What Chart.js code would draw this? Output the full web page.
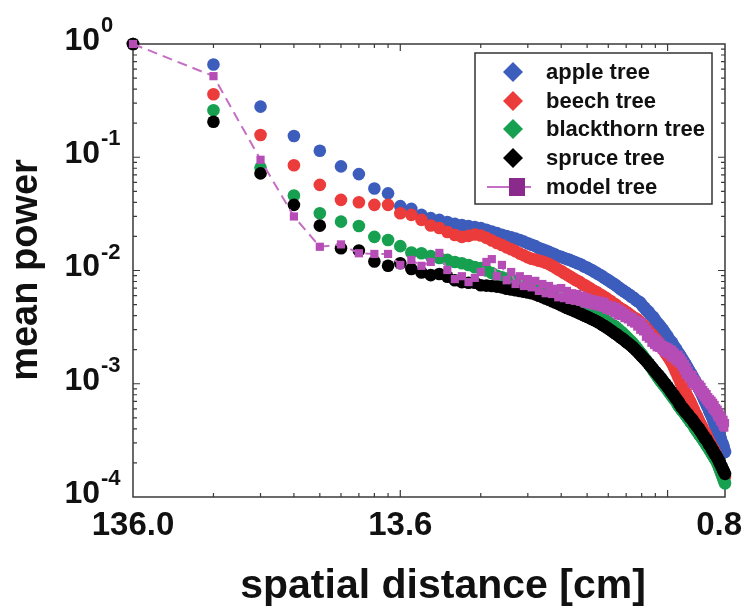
<!DOCTYPE html>
<html>
<head>
<meta charset="utf-8">
<title>mean power vs spatial distance</title>
<script src="https://cdn.jsdelivr.net/npm/chart.js@4/dist/chart.umd.min.js"></script>
<style>
  html, body { margin: 0; padding: 0; background: #fff; }
  #wrap { width: 743px; height: 610px; }
</style>
</head>
<body>
<div id="wrap"><canvas id="powerChart"></canvas></div>
<script>
// x = harmonic index k (spatial distance = 136 cm / k)
const harmonics = [];
for (let k = 1; k <= 164; k++) harmonics.push(k);

const xTickValues = [1, 10, 164];
const xTickLabels = ['136.0', '13.6', '0.8'];
const yTickValues = [1, 0.1, 0.01, 0.001, 0.0001];
const yTickExponents = ['0', '-1', '-2', '-3', '-4'];

const seriesNames = ['apple tree', 'beech tree', 'blackthorn tree', 'spruce tree', 'model tree'];

// mean power, k = 1..164
const applePower = [
  1.0, 0.66, 0.28, 0.154, 0.114, 0.083, 0.071, 0.053, 0.048, 0.037,
  0.035, 0.031, 0.029, 0.028, 0.0268, 0.0258, 0.0252, 0.0247, 0.0242, 0.0237,
  0.0229, 0.0221, 0.0214, 0.0207, 0.0201, 0.0196, 0.0191, 0.0186, 0.0180, 0.0174,
  0.0169, 0.0164, 0.0158, 0.0154, 0.0150, 0.0146, 0.0142, 0.0138, 0.0134, 0.0132,
  0.0129, 0.0126, 0.0124, 0.0121, 0.0119, 0.0116, 0.0114, 0.0111, 0.0108, 0.0106,
  0.0103, 0.0101, 0.0098, 0.0096, 0.0093, 0.0091, 0.0089, 0.0086, 0.0084, 0.0082,
  0.0080, 0.0078, 0.0076, 0.0074, 0.0072, 0.0070, 0.0068, 0.0067, 0.0065, 0.0064,
  0.0062, 0.0061, 0.0059, 0.0058, 0.0057, 0.0055, 0.0054, 0.0053, 0.0052, 0.0050,
  0.0048, 0.0047, 0.0045, 0.0044, 0.0043, 0.0041, 0.0040, 0.0039, 0.0038, 0.0036,
  0.0035, 0.0034, 0.0033, 0.0032, 0.0031, 0.0030, 0.0029, 0.0028, 0.0027, 0.0026,
  0.0025, 0.0024, 0.00236, 0.0023, 0.0022, 0.0021, 0.00206, 0.0020, 0.0019, 0.00186,
  0.0018, 0.00173, 0.00168, 0.00162, 0.00157, 0.00152, 0.00147, 0.00142, 0.00137, 0.00132,
  0.00128, 0.00124, 0.0012, 0.00116, 0.00112, 0.00108, 0.00104, 0.00101, 0.00098, 0.00094,
  0.00091, 0.00088, 0.00085, 0.00082, 0.00079, 0.00076, 0.00073, 0.0007, 0.00068, 0.00065,
  0.00063, 0.00061, 0.00058, 0.00056, 0.00054, 0.00052, 0.0005, 0.00048, 0.00046, 0.00044,
  0.00043, 0.00041, 0.0004, 0.00038, 0.00037, 0.00035, 0.00034, 0.00033, 0.00031, 0.0003,
  0.00029, 0.00028, 0.00026, 0.00025
];

const beechPower = [
  1.0, 0.36, 0.157, 0.085, 0.057, 0.042, 0.040, 0.038, 0.038, 0.032,
  0.031, 0.028, 0.025, 0.0237, 0.0219, 0.0206, 0.0198, 0.0202, 0.0208, 0.0204,
  0.0194, 0.0184, 0.0175, 0.0168, 0.0160, 0.0154, 0.0148, 0.0141, 0.0136, 0.0131,
  0.0127, 0.0125, 0.0122, 0.0120, 0.0117, 0.0114, 0.0110, 0.0106, 0.0102, 0.0099,
  0.0095, 0.0092, 0.0089, 0.0086, 0.0083, 0.0081, 0.0079, 0.0076, 0.0074, 0.0072,
  0.0070, 0.0068, 0.0066, 0.0065, 0.0063, 0.0061, 0.0060, 0.0058, 0.0057, 0.0055,
  0.0054, 0.0052, 0.0051, 0.0050, 0.0048, 0.0047, 0.0046, 0.0045, 0.0044, 0.0043,
  0.0042, 0.0041, 0.0040, 0.0039, 0.0038, 0.00376, 0.0037, 0.0036, 0.0035, 0.0034,
  0.0033, 0.0032, 0.0031, 0.0030, 0.0029, 0.0028, 0.00275, 0.00267, 0.00258, 0.0025,
  0.00243, 0.00234, 0.00226, 0.00218, 0.00211, 0.00203, 0.00196, 0.00189, 0.00182, 0.00176,
  0.0017, 0.00164, 0.00158, 0.00152, 0.00145, 0.00138, 0.00131, 0.00125, 0.00119, 0.00113,
  0.00108, 0.00102, 0.00097, 0.00094, 0.0009, 0.00086, 0.00083, 0.00079, 0.00076, 0.00073,
  0.0007, 0.00068, 0.00065, 0.00062, 0.0006, 0.00057, 0.00055, 0.00053, 0.00051, 0.00049,
  0.00047, 0.00045, 0.00044, 0.00042, 0.00041, 0.00039, 0.00038, 0.00037, 0.00036, 0.00035,
  0.00033, 0.00032, 0.00031, 0.0003, 0.00029, 0.00028, 0.00027, 0.000266, 0.00026, 0.00025,
  0.00024, 0.00023, 0.000225, 0.00022, 0.00021, 0.0002, 0.000195, 0.000188, 0.00018, 0.000175,
  0.000169, 0.000163, 0.000157, 0.000152
];

const blackthornPower = [
  1.0, 0.26, 0.081, 0.046, 0.032, 0.027, 0.0247, 0.0198, 0.0186, 0.0164,
  0.0144, 0.0142, 0.0134, 0.0129, 0.0124, 0.0119, 0.0116, 0.0112, 0.0107, 0.0105,
  0.0100, 0.0095, 0.0090, 0.0087, 0.0085, 0.0083, 0.0081, 0.0080, 0.0078, 0.0076,
  0.0074, 0.0072, 0.0070, 0.0069, 0.0067, 0.0065, 0.0063, 0.0061, 0.0060, 0.0058,
  0.0056, 0.0055, 0.0054, 0.0052, 0.0051, 0.0050, 0.0048, 0.0047, 0.0046, 0.0045,
  0.0044, 0.0043, 0.0042, 0.0041, 0.0040, 0.0039, 0.0038, 0.0037, 0.0036, 0.0035,
  0.0034, 0.0033, 0.00325, 0.00317, 0.00307, 0.00297, 0.00288, 0.00279, 0.0027, 0.00261,
  0.00252, 0.00244, 0.00237, 0.00229, 0.0022, 0.00212, 0.00204, 0.00196, 0.00189, 0.00182,
  0.00175, 0.00168, 0.00162, 0.00156, 0.0015, 0.00144, 0.00139, 0.00133, 0.00128, 0.00123,
  0.00119, 0.00114, 0.0011, 0.00106, 0.00103, 0.001, 0.00097, 0.00094, 0.00091, 0.00088,
  0.00085, 0.00083, 0.0008, 0.00078, 0.00075, 0.00073, 0.00071, 0.00069, 0.00066, 0.00064,
  0.00062, 0.0006, 0.00059, 0.00057, 0.00056, 0.00054, 0.00053, 0.00051, 0.0005, 0.00049,
  0.00047, 0.00046, 0.00045, 0.00044, 0.00043, 0.00041, 0.0004, 0.00039, 0.00038, 0.00037,
  0.00036, 0.00035, 0.000344, 0.000335, 0.000327, 0.000318, 0.00031, 0.000302, 0.000294, 0.000286,
  0.000279, 0.000272, 0.000265, 0.000258, 0.000251, 0.000245, 0.000238, 0.000232, 0.000226, 0.00022,
  0.000215, 0.000209, 0.000204, 0.000196, 0.000188, 0.000181, 0.000174, 0.000167, 0.000161, 0.000155,
  0.000149, 0.000143, 0.000138, 0.000132
];

const sprucePower = [
  1.0, 0.206, 0.072, 0.038, 0.0249, 0.0157, 0.0150, 0.0120, 0.0110, 0.0116,
  0.0103, 0.0096, 0.0091, 0.0093, 0.0088, 0.0082, 0.0079, 0.0078, 0.0078, 0.0074,
  0.00736, 0.0073, 0.0072, 0.0071, 0.0069, 0.0068, 0.0067, 0.0066, 0.0065, 0.0064,
  0.0063, 0.00615, 0.00598, 0.00582, 0.00566, 0.00551, 0.00536, 0.00521, 0.00507, 0.00493,
  0.0048, 0.00467, 0.00456, 0.00447, 0.00437, 0.00427, 0.00417, 0.00408, 0.00399, 0.0039,
  0.00382, 0.00373, 0.00365, 0.00357, 0.00349, 0.00341, 0.00332, 0.00324, 0.00315, 0.00307,
  0.00299, 0.00291, 0.00283, 0.00276, 0.00269, 0.00261, 0.00255, 0.00248, 0.00242, 0.00235,
  0.00229, 0.00223, 0.00217, 0.00211, 0.00205, 0.00199, 0.00192, 0.00187, 0.00181, 0.00175,
  0.0017, 0.00164, 0.0016, 0.00155, 0.0015, 0.00145, 0.00141, 0.00136, 0.00132, 0.00128,
  0.00124, 0.0012, 0.00117, 0.00113, 0.0011, 0.00106, 0.00103, 0.001, 0.00097, 0.00094,
  0.00091, 0.00088, 0.00085, 0.00083, 0.0008, 0.00078, 0.00075, 0.00073, 0.00071, 0.00069,
  0.00066, 0.00064, 0.00062, 0.00061, 0.00059, 0.00058, 0.00056, 0.00055, 0.00054, 0.00052,
  0.00051, 0.0005, 0.00049, 0.00048, 0.00046, 0.00045, 0.00044, 0.00043, 0.00042, 0.00041,
  0.0004, 0.00039, 0.00038, 0.00037, 0.00036, 0.00035, 0.00034, 0.00033, 0.000325, 0.00032,
  0.00031, 0.0003, 0.00029, 0.000286, 0.00028, 0.00027, 0.00026, 0.000257, 0.00025, 0.00024,
  0.000238, 0.00023, 0.000225, 0.000218, 0.000212, 0.000205, 0.000199, 0.000193, 0.000187, 0.000181,
  0.000176, 0.00017, 0.000165, 0.00016
];

const modelPower = [
  1.0, 0.52, 0.095, 0.030, 0.0162, 0.017, 0.0142, 0.0140, 0.0140, 0.0112,
  0.0124, 0.0110, 0.0119, 0.0143, 0.0101, 0.0084, 0.0089, 0.0079, 0.0086, 0.0097,
  0.0119, 0.0126, 0.0089, 0.0112, 0.0082, 0.0097, 0.0076, 0.0089, 0.0073, 0.0084,
  0.0071, 0.0081, 0.0066, 0.0076, 0.0063, 0.0073, 0.0062, 0.0069, 0.0058, 0.0070,
  0.0057, 0.0066, 0.0055, 0.0063, 0.0054, 0.0062, 0.0053, 0.0060, 0.0051, 0.0058,
  0.0050, 0.0056, 0.0049, 0.0055, 0.0048, 0.0054, 0.0047, 0.0053, 0.0045, 0.0050,
  0.0044, 0.0049, 0.0042, 0.0048, 0.0040, 0.0046, 0.00396, 0.0044, 0.0038, 0.0042,
  0.0037, 0.0040, 0.0035, 0.0039, 0.0034, 0.0037, 0.0032, 0.0036, 0.0030, 0.0035,
  0.0029, 0.0032, 0.0026, 0.0030, 0.0025, 0.0028, 0.0023, 0.0026, 0.0022, 0.0025,
  0.0021, 0.0024, 0.00207, 0.0023, 0.0020, 0.0022, 0.0019, 0.00215, 0.00187, 0.0021,
  0.0018, 0.0020, 0.0017, 0.0020, 0.0017, 0.0019, 0.0016, 0.0018, 0.00156, 0.0018,
  0.0015, 0.0017, 0.0014, 0.0016, 0.0013, 0.0015, 0.0012, 0.0014, 0.00117, 0.0013,
  0.0011, 0.0012, 0.0010, 0.0012, 0.000996, 0.0011, 0.00096, 0.00106, 0.00092, 0.0010,
  0.00086, 0.00098, 0.00083, 0.00094, 0.00079, 0.00088, 0.00076, 0.00084, 0.00072, 0.00081,
  0.00069, 0.00076, 0.00066, 0.00073, 0.00064, 0.00071, 0.0006, 0.00068, 0.00058, 0.00065,
  0.00056, 0.00061, 0.00052, 0.00059, 0.0005, 0.00056, 0.00047, 0.00053, 0.00045, 0.0005,
  0.00042, 0.00048, 0.00041, 0.00045
];

const FONT = '"Liberation Sans", Arial, Helvetica, sans-serif';

function toPoints(values) {
    return values.map((v, i) => ({ x: harmonics[i], y: v }));
}

function treeDataset(label, values, color, order) {
    return {
        label: label,
        data: toPoints(values),
        showLine: false,
        pointStyle: 'circle',
        pointRadius: 6.3,
        pointBorderWidth: 0,
        pointBackgroundColor: color,
        pointBorderColor: color,
        clip: false,
        order: order
    };
}

// axes frame, inward ticks, tick labels, titles, legend box
const framePlugin = {
    id: 'framePlugin',
    beforeDatasetsDraw(chart) {
        const ctx = chart.ctx;
        const a = chart.chartArea;
        const xs = chart.scales.x;
        const ys = chart.scales.y;
        ctx.save();
        ctx.strokeStyle = '#3a3a3a';
        ctx.lineWidth = 1.5;
        ctx.strokeRect(a.left, a.top, a.right - a.left, a.bottom - a.top);
        ctx.lineWidth = 1.2;
        ctx.beginPath();
        // x ticks (harmonic decades)
        for (let dec = 1; dec <= 100; dec *= 10) {
            for (let m = 1; m <= 9; m++) {
                const v = m * dec;
                if (v <= 1 || v >= 164) continue;
                const px = xs.getPixelForValue(v);
                const len = m === 1 ? 7 : 4;
                ctx.moveTo(px, a.bottom); ctx.lineTo(px, a.bottom - len);
                ctx.moveTo(px, a.top); ctx.lineTo(px, a.top + len);
            }
        }
        // y ticks
        for (let n = -4; n <= -1; n++) {
            for (let m = 1; m <= 9; m++) {
                const v = m * Math.pow(10, n);
                if (v <= 0.0001) continue;
                const py = ys.getPixelForValue(v);
                const len = m === 1 ? 7 : 4;
                ctx.moveTo(a.left, py); ctx.lineTo(a.left + len, py);
                ctx.moveTo(a.right, py); ctx.lineTo(a.right - len, py);
            }
        }
        ctx.stroke();
        ctx.restore();
    },
    afterDraw(chart) {
        const ctx = chart.ctx;
        const xs = chart.scales.x;
        const ys = chart.scales.y;
        ctx.save();
        ctx.fillStyle = '#111';

        // y tick labels 10^n
        yTickValues.forEach((v, i) => {
            const py = ys.getPixelForValue(v);
            ctx.font = 'bold 32px ' + FONT;
            ctx.textAlign = 'right';
            ctx.textBaseline = 'middle';
            ctx.fillText('10', 100, py - 3);
            ctx.font = 'bold 22px ' + FONT;
            ctx.textAlign = 'left';
            ctx.textBaseline = 'alphabetic';
            ctx.fillText(yTickExponents[i], 101, py - 12);
        });

        // x tick labels
        ctx.font = 'bold 33px ' + FONT;
        ctx.textBaseline = 'alphabetic';
        xTickValues.forEach((v, i) => {
            let px = xs.getPixelForValue(v);
            const w = ctx.measureText(xTickLabels[i]).width;
            px = Math.min(px, chart.width - 1 - w / 2);
            ctx.textAlign = 'center';
            ctx.fillText(xTickLabels[i], px, 535);
        });

        // axis titles
        ctx.font = 'bold 41px ' + FONT;
        ctx.textAlign = 'center';
        ctx.fillText('spatial distance [cm]', 443, 598);
        ctx.save();
        ctx.translate(27, 270);
        ctx.rotate(-Math.PI / 2);
        ctx.font = 'bold 38px ' + FONT;
        ctx.textBaseline = 'middle';
        ctx.fillText('mean power', 0, 0);
        ctx.restore();

        // legend
        ctx.fillStyle = '#fff';
        ctx.fillRect(475, 53, 237, 151);
        ctx.strokeStyle = '#333';
        ctx.lineWidth = 1.5;
        ctx.strokeRect(475, 53, 237, 151);
        const rowY = [72, 101, 129, 158, 187];
        chart.data.datasets.forEach(ds => {
            const idx = seriesNames.indexOf(ds.label);
            const y = rowY[idx];
            if (ds.showLine) {
                ctx.strokeStyle = ds.borderColor;
                ctx.lineWidth = 2;
                ctx.beginPath();
                ctx.moveTo(487, y); ctx.lineTo(531, y);
                ctx.stroke();
                ctx.fillStyle = '#8a2a8c';
                ctx.fillRect(509, y - 9, 16, 18);
            } else {
                ctx.fillStyle = ds.pointBackgroundColor;
                ctx.beginPath();
                ctx.moveTo(513, y - 10); ctx.lineTo(523, y);
                ctx.lineTo(513, y + 10); ctx.lineTo(503, y);
                ctx.closePath();
                ctx.fill();
            }
            ctx.fillStyle = '#111';
            ctx.font = 'bold 22px ' + FONT;
            ctx.textAlign = 'left';
            ctx.textBaseline = 'middle';
            ctx.fillText(ds.label, 546, y + 1);
        });
        ctx.restore();
    }
};

const ctxPower = document.getElementById('powerChart').getContext('2d');
const powerChart = new Chart(ctxPower, {
    type: 'scatter',
    data: {
        datasets: [
            treeDataset(seriesNames[0], applePower, '#3d5dbd', 5),
            treeDataset(seriesNames[1], beechPower, '#ec3b3b', 4),
            treeDataset(seriesNames[2], blackthornPower, '#16a04f', 3),
            treeDataset(seriesNames[3], sprucePower, '#000000', 2),
            {
                label: seriesNames[4],
                data: toPoints(modelPower),
                showLine: true,
                borderColor: '#c46fc4',
                borderWidth: 2,
                borderDash: [10, 6],
                pointStyle: 'rect',
                pointRadius: 5.8,
                pointBorderWidth: 0,
                pointBackgroundColor: '#b64db6',
                pointBorderColor: '#b64db6',
                clip: false,
                order: 1
            }
        ]
    },
    options: {
        responsive: true,
        maintainAspectRatio: false,
        animation: false,
        devicePixelRatio: 1,
        layout: { padding: { left: 133, right: 18, top: 44, bottom: 113 } },
        scales: {
            x: { type: 'logarithmic', min: 1, max: 164, display: false },
            y: { type: 'logarithmic', min: 0.0001, max: 1, display: false }
        },
        plugins: {
            legend: { display: false },
            tooltip: { enabled: false }
        }
    },
    plugins: [framePlugin]
});
</script>
</body>
</html>
